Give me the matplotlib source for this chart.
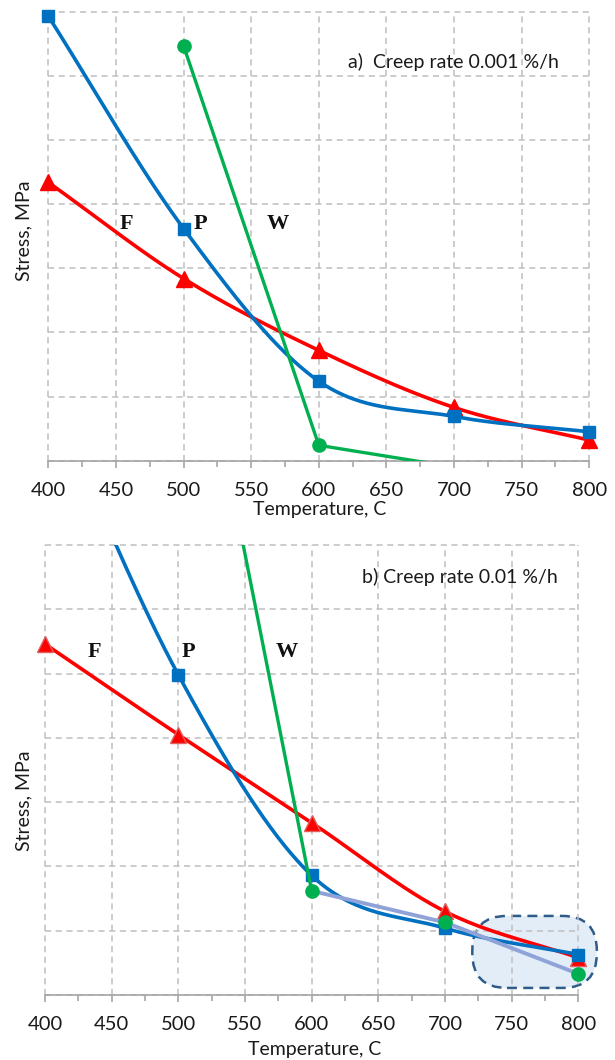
import numpy as np
import matplotlib
matplotlib.use("Agg")
import matplotlib.pyplot as plt
from matplotlib.patches import FancyBboxPatch

# ---------------- data (stress in grid units, y axis unlabeled) ----------------
temps = [400, 500, 600, 700, 800]

# panel a) creep rate 0.001 %/h
a_F = [4.34, 2.84, 1.72, 0.83, 0.32]
a_P = [6.93, 3.62, 1.24, 0.69, 0.45]
a_W_temps = [500, 600, 700]
a_W = [6.47, 0.24, -0.10]

# panel b) creep rate 0.01 %/h
b_F = [5.46, 4.05, 2.68, 1.30, 0.58]
b_P = [9.5, 4.98, 1.86, 1.04, 0.63]
b_W_temps = [500, 600]
b_W = [12.1, 1.62]
b_W2_temps = [600, 700, 800]
b_W2 = [1.62, 1.13, 0.33]

x_ticks = [400, 450, 500, 550, 600, 650, 700, 750, 800]
x_labels = [str(t) for t in x_ticks]

RED = "#ff0000"
BLUE = "#0070c0"
GREEN = "#00b050"
LAV = "#8fa3d9"
GRID = "#bfbfbf"
UI_FONT = ["Lato", "DejaVu Sans"]
SERIF = ["Liberation Serif", "DejaVu Serif"]

W_PX, H_PX = 615, 1060
fig = plt.figure(figsize=(W_PX / 100, H_PX / 100), dpi=100)


def smooth(x, y, n=60):
    x = np.asarray(x, float)
    y = np.asarray(y, float)
    m = np.empty_like(y)
    m[0] = (y[1] - y[0]) / (x[1] - x[0])
    m[-1] = (y[-1] - y[-2]) / (x[-1] - x[-2])
    m[1:-1] = (y[2:] - y[:-2]) / (x[2:] - x[:-2])
    xs, ys = [], []
    for i in range(len(x) - 1):
        h = x[i + 1] - x[i]
        t = np.linspace(0, 1, n)
        h00 = 2 * t**3 - 3 * t**2 + 1
        h10 = t**3 - 2 * t**2 + t
        h01 = -2 * t**3 + 3 * t**2
        h11 = t**3 - t**2
        xs.append(x[i] + t * h)
        ys.append(h00 * y[i] + h10 * h * m[i] + h01 * y[i + 1] + h11 * h * m[i + 1])
    return np.concatenate(xs), np.concatenate(ys)


def px_axes(left, top, right, bottom):
    return fig.add_axes([left / W_PX, 1 - bottom / H_PX,
                         (right - left) / W_PX, (bottom - top) / H_PX])


def style(ax):
    ax.set_xlim(400, 800)
    ax.set_ylim(0, 7)
    ax.set_xticks(x_ticks)
    ax.set_xticklabels(x_labels, fontsize=14.5, family=UI_FONT, color="#1a1a1a")
    ax.set_xticks([425, 475, 525, 575, 625, 675, 725, 775], minor=True)
    ax.set_yticks(range(0, 8))
    ax.set_yticklabels([])
    ax.tick_params(axis="y", length=0)
    ax.tick_params(axis="x", which="major", direction="out", length=5,
                   width=1.2, color="#a6a6a6", pad=10)
    ax.tick_params(axis="x", which="minor", direction="out", length=4,
                   width=1.2, color="#a6a6a6")
    ax.grid(True, which="major", color=GRID, linestyle=(0, (4, 3)), linewidth=1.1)
    for ln in ax.get_xgridlines() + ax.get_ygridlines():
        ln.set_clip_on(False)
    for s in ["left", "top", "right"]:
        ax.spines[s].set_visible(False)
    ax.spines["bottom"].set_color("#a6a6a6")
    ax.spines["bottom"].set_linewidth(1.2)
    ax.spines["bottom"].set_zorder(2.5)


def markers(ax, x, y, **kw):
    x = np.asarray(x, float)
    y = np.asarray(y, float)
    ok = (y >= 0) & (y <= 7.05)
    ax.plot(x[ok], y[ok], linestyle="none", clip_on=False, **kw)


LW = 2.6

# ---------------- panel a ----------------
axA = px_axes(48.3, 11.7, 589.3, 460.7)
style(axA)
sx, sy = smooth(temps, a_F)
axA.plot(sx, sy, color=RED, lw=LW, zorder=3)
markers(axA, temps, a_F, marker="^", ms=11, color=RED, zorder=3.1)
sx, sy = smooth(temps, a_P)
axA.plot(sx, sy, color=BLUE, lw=LW, zorder=4)
markers(axA, temps, a_P, marker="s", ms=8, color=BLUE, zorder=4.1)
axA.plot(a_W_temps, a_W, color=GREEN, lw=LW - 0.2, zorder=5)
markers(axA, a_W_temps, a_W, marker="o", ms=9.5, color=GREEN, zorder=5.1)

axA.text(621.6, 6.22, "a)  Creep rate 0.001 %/h", ha="left", va="center",
         fontsize=14, family=UI_FONT, color="#1a1a1a")
for lab, xx in zip(["F", "P", "W"], [457.4, 512.7, 569.9]):
    axA.text(xx, 3.69, lab, ha="center", va="center", fontsize=16,
             fontweight="bold", family=SERIF, color="#111111")

# ---------------- panel b ----------------
axB = px_axes(45, 545, 578.3, 995)
style(axB)
box_px_per_x = (578.3 - 45) / 400
box_px_per_y = (995 - 545) / 7
aspect = box_px_per_x / box_px_per_y
box = FancyBboxPatch((720.5, 0.11), 93.4, 1.12,
                     boxstyle="round,pad=0,rounding_size=26",
                     mutation_aspect=aspect, transform=axB.transData,
                     clip_on=False, facecolor="#e2edf8", edgecolor="#2f5c88",
                     linestyle=(0, (4, 2.5)), linewidth=1.8, zorder=1)
axB.add_patch(box)

sx, sy = smooth(temps, b_F)
axB.plot(sx, sy, color=RED, lw=LW, zorder=3)
markers(axB, temps, b_F, marker="^", ms=11, color=RED, mec="#e06060", zorder=3.1)
sx, sy = smooth(temps, b_P)
axB.plot(sx, sy, color=BLUE, lw=LW, zorder=4)
markers(axB, temps, b_P, marker="s", ms=8, color=BLUE, zorder=4.1)
axB.plot(b_W_temps, b_W, color=GREEN, lw=LW - 0.2, zorder=5)
axB.plot(b_W2_temps, b_W2, color=LAV, lw=2.8, zorder=5)
markers(axB, b_W2_temps, b_W2, marker="o", ms=9.5, color=GREEN, zorder=5.1)

axB.text(637.8, 6.51, "b) Creep rate 0.01 %/h", ha="left", va="center",
         fontsize=14, family=UI_FONT, color="#1a1a1a")
for lab, xx in zip(["F", "P", "W"], [437.0, 507.4, 581.0]):
    axB.text(xx, 5.33, lab, ha="center", va="center", fontsize=16,
             fontweight="bold", family=SERIF, color="#111111")

# ---------------- axis titles ----------------
def ftext(xp, yp, s, **kw):
    fig.text(xp / W_PX, 1 - yp / H_PX, s, ha="center", va="center",
             fontsize=14, family=UI_FONT, color="#1a1a1a", **kw)

ftext(320, 510, "Temperature, C")
ftext(315, 1049, "Temperature, C")
ftext(24, 231, "Stress, MPa", rotation=90)
ftext(24, 801, "Stress, MPa", rotation=90)

fig.savefig("out.png", dpi=100)
